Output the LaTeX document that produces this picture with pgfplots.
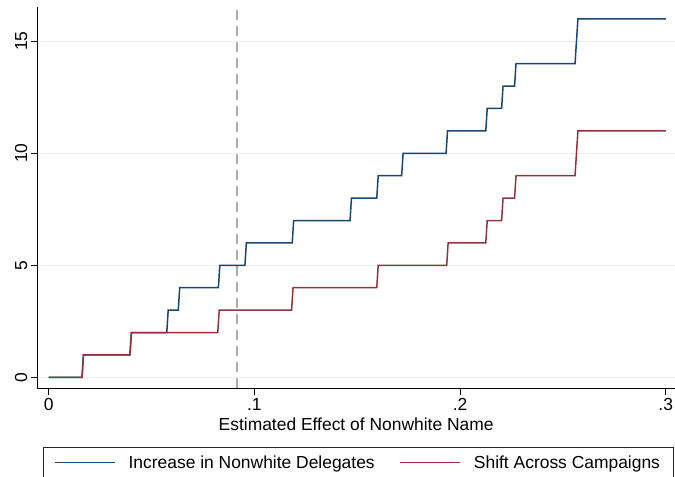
\documentclass[border=0pt]{standalone}
\usepackage{fontspec}
\setmainfont{Liberation Sans}
\usepackage{pgfplots}
\pgfplotsset{compat=1.18}
\definecolor{snavy}{RGB}{26,71,111}
\definecolor{smaroon}{RGB}{144,53,59}
\definecolor{sgrid}{RGB}{232,240,241}

\begin{document}
\begin{tikzpicture}
\useasboundingbox (-37.3bp,-88.7bp) rectangle (637.7bp,388.3bp);
\begin{axis}[
    scale only axis, width=637.7bp, height=381.3bp,
    xmin=-0.00554, xmax=0.3045, ymin=-0.49, ymax=16.53,
    axis x line*=bottom, axis y line*=left,
    axis line style={black, line width=0.9bp},
    font=\fontsize{17.5}{21}\selectfont,
    xtick={0,0.1,0.2,0.3}, xticklabels={0,.1,.2,.3},
    ytick={0,5,10,15}, yticklabels={0,5,10,15},
    yticklabel style={rotate=90, anchor=south},
    tick align=outside, major tick length=6.5bp,
    tick style={black, line width=0.8bp},
    ymajorgrids, grid style={sgrid, line width=1bp},
    xlabel={Estimated Effect of Nonwhite Name},
    legend columns=2,
    legend image code/.code={\draw[#1, line width=1.2bp] (0bp,0bp) -- (60bp,0bp);},
    legend style={at={(0.00894,-0.1539)}, anchor=north west,
        draw=black!85, line width=0.8bp, inner xsep=11bp, inner ysep=6bp,
        font=\fontsize{17.5}{21}\selectfont,
        /tikz/every odd column/.append style={column sep=11bp},
        /tikz/every even column/.append style={column sep=23bp}},
]
\addplot[forget plot, gray!65, line width=1.5bp, dash pattern=on 10bp off 6bp] coordinates {(0.0916,-0.49) (0.0916,16.53)};
\addplot[snavy, line width=1.5bp] coordinates {
    (0,0) (0.0162,0) (0.0169,1) (0.0395,1) (0.0402,2) (0.0574,2) (0.0581,3)
    (0.0630,3) (0.0637,4) (0.0825,4) (0.0832,5) (0.0954,5) (0.0961,6)
    (0.1184,6) (0.1191,7) (0.1465,7) (0.1472,8) (0.1595,8) (0.1602,9)
    (0.1716,9) (0.1723,10) (0.1932,10) (0.1939,11) (0.2125,11) (0.2132,12)
    (0.2202,12) (0.2209,13) (0.2265,13) (0.2272,14) (0.2559,14) (0.2573,16)
    (0.3,16)};
\addlegendentry{Increase in Nonwhite Delegates}
\addplot[smaroon, line width=1.5bp] coordinates {
    (0,0) (0.0162,0) (0.0169,1) (0.0395,1) (0.0402,2) (0.0822,2) (0.0829,3)
    (0.1181,3) (0.1188,4) (0.1595,4) (0.1602,5) (0.1935,5) (0.1942,6)
    (0.2125,6) (0.2132,7) (0.2202,7) (0.2209,8) (0.2265,8) (0.2272,9)
    (0.2559,9) (0.2573,11) (0.3,11)};
\addlegendentry{Shift Across Campaigns}
\end{axis}
\end{tikzpicture}
\end{document}
